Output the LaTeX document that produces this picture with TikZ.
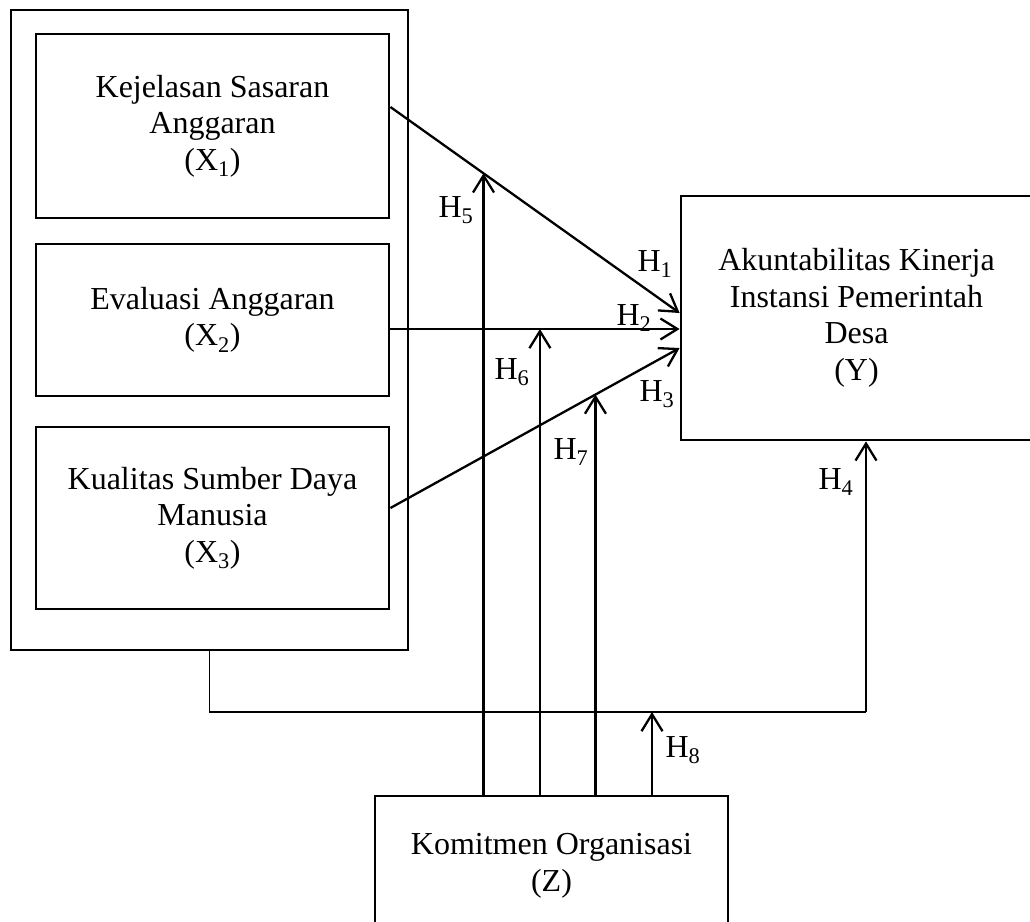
\documentclass[tikz,border=0pt]{standalone}
\usepackage{fontspec}
\setmainfont{Liberation Serif}
\usetikzlibrary{arrows.meta,calc}
\begin{document}
\begin{tikzpicture}[x=1pt,y=-1pt,
  box/.style={draw,line width=2.8pt,align=center,inner sep=0pt,
    font=\fontsize{32}{36.5}\selectfont},
  arr/.style={line width=2.3pt,-{Straight Barb[length=17pt,width=21pt,line width=2.3pt]}},
  thin/.style={line width=1.3pt},
  lab/.style={inner sep=0pt,font=\fontsize{32}{36.5}\selectfont}]
\useasboundingbox (0,0) rectangle (1030,921);
\clip (0,0) rectangle (1030,921);
% boxes
\node[box,minimum width=397pt,minimum height=640pt] (outer) at (209.5,330) {};
\node[box,minimum width=353pt,minimum height=184pt] (X1) at (212.5,126)
  {Kejelasan Sasaran\\Anggaran\\(X\textsubscript{1})};
\node[box,minimum width=353pt,minimum height=152pt] (X2) at (212.5,320)
  {Evaluasi Anggaran\\(X\textsubscript{2})};
\node[box,minimum width=353pt,minimum height=182pt] (X3) at (212.5,518)
  {Kualitas Sumber Daya\\Manusia\\(X\textsubscript{3})};
\node[box,minimum width=351pt,minimum height=244pt] (Y) at (856.5,318)
  {Akuntabilitas Kinerja\\Instansi Pemerintah\\Desa\\(Y)};
\node[box,minimum width=353pt,minimum height=140pt] (Z) at (551.5,866)
  {Komitmen Organisasi\\(Z)};
% main paths
\coordinate (s1) at ([yshift=19pt]X1.east);
\coordinate (e1) at ([yshift=5pt]Y.west);
\coordinate (s2) at ([yshift=-9pt]X2.east);
\coordinate (e2) at ([yshift=-11pt]Y.west);
\coordinate (s3) at ([yshift=10pt]X3.east);
\coordinate (e3) at ([yshift=-30pt]Y.west);
\draw[arr] (s1) -- (e1);
\draw[arr] (s2) -- (e2);
\draw[arr] (s3) -- (e3);
% moderation points
\coordinate (m5) at ($(s1)!0.322!(e1)$);
\coordinate (m6) at ($(s2)!0.517!(e2)$);
\coordinate (m7) at ($(s3)!0.709!(e3)$);
\coordinate (b2) at (outer.south |- 0,712);
\coordinate (b3) at (866,712);
\coordinate (m8) at (652,712);
\draw[thin] (outer.south) -- (b2) -- (b3);
\draw[arr] (b3) -- (b3 |- Y.south);
\draw[arr] (Z.north -| m5) -- (m5);
\draw[arr] (Z.north -| m6) -- (m6);
\draw[arr] (Z.north -| m7) -- (m7);
\draw[arr] (Z.north -| m8) -- (m8);
% labels
\node[lab] (h1) at (655,264) {H\textsubscript{1}};
\node[lab] (h2) at (634,318) {H\textsubscript{2}};
\node[lab] (h3) at (657,394) {H\textsubscript{3}};
\node[lab] (h4) at (836,482) {H\textsubscript{4}};
\node[lab] (h5) at (456,210) {H\textsubscript{5}};
\node[lab] (h6) at (512,372) {H\textsubscript{6}};
\node[lab] (h7) at (571,452) {H\textsubscript{7}};
\node[lab] (h8) at (683,750) {H\textsubscript{8}};
\end{tikzpicture}
\end{document}
